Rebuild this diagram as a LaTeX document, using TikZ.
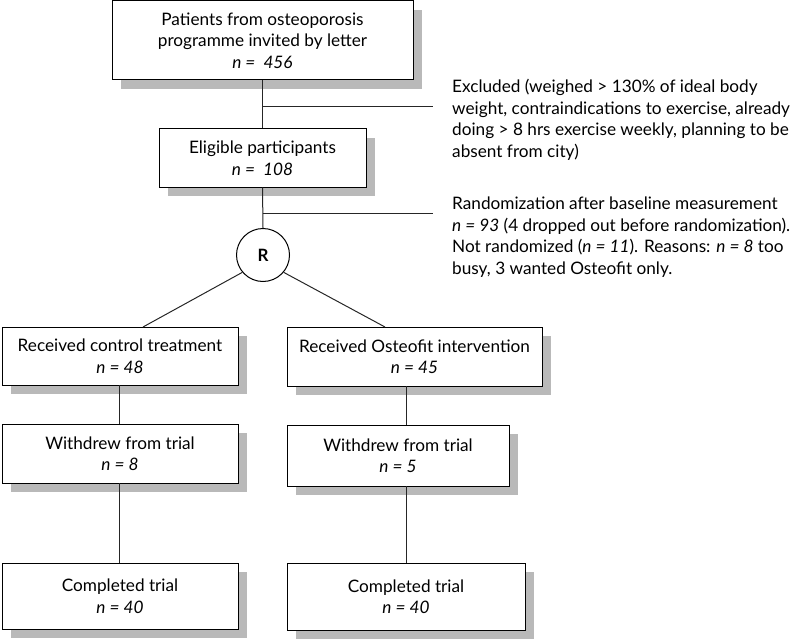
\documentclass[tikz,border=0pt]{standalone}
\usepackage{fontspec}
\setmainfont{Lato}
\usetikzlibrary{shadows}
\begin{document}
\begin{tikzpicture}[x=1pt,y=-1pt,
  every node/.style={font=\fontsize{17.2}{21.5}\selectfont},
  box/.style={draw=black, line width=1pt, fill=white, align=center, inner sep=0pt,
    drop shadow={shadow xshift=9pt, shadow yshift=-9pt, fill=gray!55, opacity=1}},
  conn/.style={line width=1pt, draw=black!85},
  note/.style={align=left, inner sep=0pt, anchor=north west}]
\useasboundingbox (0,0) rectangle (799,639);
\node[box, minimum width=301pt, minimum height=79pt] (b1) at (262.5,40.5)
  {Patients from osteoporosis\\programme invited by letter\\{\itshape n =\ \ 456}};
\node[box, minimum width=207pt, minimum height=58pt] (b2) at (262.5,158)
  {Eligible participants\\{\itshape n =\ \ 108}};
\node[draw=black, line width=1pt, fill=white, circle, minimum size=53pt, inner sep=0pt, font=\fontsize{17}{20}\selectfont\bfseries] (r) at (263,255) {R};
\node[box, minimum width=236pt, minimum height=58pt] (l1) at (120,356)
  {Received control treatment\\{\itshape n = 48}};
\node[box, minimum width=255pt, minimum height=59pt] (r1) at (414.5,356.5)
  {Received Osteofit intervention\\{\itshape n = 45}};
\node[box, minimum width=236pt, minimum height=59pt] (l2) at (120,453.5)
  {Withdrew from trial\\{\itshape n = 8}};
\node[box, minimum width=222pt, minimum height=61pt] (r2) at (398,455.5)
  {Withdrew from trial\\{\itshape n = 5}};
\node[box, minimum width=236pt, minimum height=66pt] (l3) at (120,596)
  {Completed trial\\{\itshape n = 40}};
\node[box, minimum width=238pt, minimum height=67pt] (r3) at (406,596.5)
  {Completed trial\\{\itshape n = 40}};
\node[note] (ex) at (452,79) {Excluded (weighed > 130\% of ideal body\\weight, contraindications to exercise, already\\doing > 8 hrs exercise weekly, planning to be\\absent from city)};
\node[note] (rn) at (452,197) {Randomization after baseline measurement\\{\itshape n = 93} (4 dropped out before randomization).\\Not randomized ({\itshape n = 11}). Reasons: {\itshape n = 8} too\\busy, 3 wanted Osteofit only.};
\coordinate (e1) at (433,107);
\coordinate (e2) at (433,213);
\draw[conn] (b1.south) -- (b2.north);
\draw[conn] (b1.south |- e1) -- (e1);
\draw[conn] (b2.south) -- (r.north);
\draw[conn] (b2.south |- e2) -- (e2);
\draw[conn] (r.220) -- (143,327);
\draw[conn] (r.-40) -- (385,327);
\draw[conn] (119,385) -- (119,424);
\draw[conn] (119,483) -- (119,563);
\draw[conn] (406,386) -- (406,425);
\draw[conn] (406,486) -- (406,563);
\end{tikzpicture}
\end{document}
